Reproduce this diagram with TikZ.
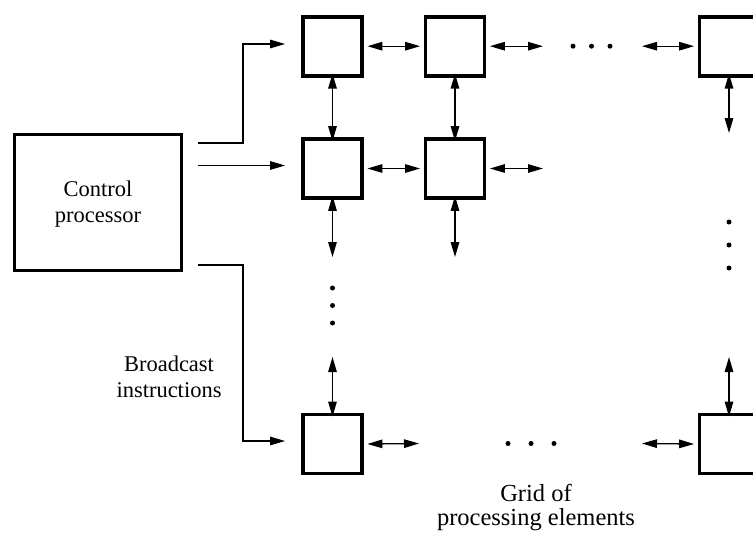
\documentclass[tikz,border=0pt]{standalone}
\usepackage{fontspec}
\setmainfont{Liberation Serif}
\usetikzlibrary{arrows.meta}
\begin{document}
\begin{tikzpicture}[x=1pt,y=-1pt,
  pe/.style={draw,line width=3.8pt,minimum size=59pt,inner sep=0pt},
  ctrl/.style={draw,line width=3.6pt,minimum width=167pt,minimum height=136pt,inner sep=0pt},
  tip/.tip={Triangle[length=15pt,width=8.5pt]},
  link/.style={line width=1.2pt,-tip},
  dbl/.style={line width=1.3pt,tip-tip},
  dot/.style={circle,fill,inner sep=0pt,minimum size=5pt},
  lbl/.style={align=center,font=\fontsize{22.5}{25.5}\selectfont}]
\useasboundingbox (0,0) rectangle (753,533);

% control processor
\node[ctrl] (cp) at (98,202.5) {};
\node[lbl] (cptext) at (98,204) {Control\\processor};

% processing elements
\node[pe] (p11) at (332.5,46.2) {};
\node[pe] (p12) at (455,46.2) {};
\node[pe] (p1n) at (729,46.2) {};
\node[pe] (p21) at (332.5,168.5) {};
\node[pe] (p22) at (455,168.5) {};
\node[pe] (pm1) at (332.5,444) {};
\node[pe] (pmn) at (729,444) {};

% broadcast lines
\coordinate (s1) at (198,143);
\coordinate (j1) at (243,143);
\coordinate (k1) at (243,44);
\coordinate (s2) at (198,165.5);
\coordinate (s3) at (198,265);
\coordinate (j3) at (243,265);
\coordinate (k3) at (243,441);
\draw[link,shorten >=16pt] (s1) -- (j1) -- (k1) -- (k1 -| p11.west);
\draw[link,shorten >=16pt] (s2) -- (s2 -| p21.west);
\draw[link,shorten >=16pt] (s3) -- (j3) -- (k3) -- (k3 -| pm1.west);

% horizontal links
\draw[dbl] ([xshift=3.5pt]p11.east) -- ([xshift=-3.5pt]p12.west);
\coordinate (r1e) at (543,46.2);
\draw[dbl] ([xshift=3.5pt]p12.east) -- (r1e);
\coordinate (r1w) at (642,46.2);
\draw[dbl] (r1w) -- ([xshift=-3.5pt]p1n.west);
\draw[dbl] ([xshift=3.5pt]p21.east) -- ([xshift=-3.5pt]p22.west);
\coordinate (r2e) at (543,168.5);
\draw[dbl] ([xshift=3.5pt]p22.east) -- (r2e);
\coordinate (rme) at (419,443.5);
\draw[dbl] ([xshift=3.5pt]pm1.east) -- (rme);
\coordinate (rmw) at (642,443.5);
\draw[dbl] (rmw) -- ([xshift=-3.5pt]pmn.west);

% vertical links
\draw[dbl] ([yshift=4pt]p11.south) -- ([yshift=-4pt]p21.north);
\draw[dbl] ([yshift=4pt]p12.south) -- ([yshift=-4pt]p22.north);
\coordinate (c1s) at (332.5,257);
\draw[dbl] ([yshift=4pt]p21.south) -- (c1s);
\coordinate (c2s) at (455,257);
\draw[dbl] ([yshift=4pt]p22.south) -- (c2s);
\coordinate (cns) at (729,133);
\draw[dbl] ([yshift=4pt]p1n.south) -- (cns);
\coordinate (c1m) at (332.5,357);
\draw[dbl] (c1m) -- ([yshift=-4pt]pm1.north);
\coordinate (cnm) at (729,357);
\draw[dbl] (cnm) -- ([yshift=-4pt]pmn.north);

% ellipses
\foreach \x/\n in {573/a,591.5/b,610/c} \node[dot] (dr1\n) at (\x,46.2) {};
\foreach \x/\n in {508/a,531/b,554/c} \node[dot] (drm\n) at (\x,443.5) {};
\foreach \y/\n in {288/a,305.5/b,323/c} \node[dot] (dc1\n) at (332.5,\y) {};
\foreach \y/\n in {222/a,245/b,268/c} \node[dot] (dcn\n) at (729,\y) {};

% labels
\node[lbl] (bcast) at (169,377) {Broadcast\\instructions};
\node[lbl,font=\fontsize{24.5}{24}\selectfont] (grid) at (536,508) {Grid of\\processing elements};
\end{tikzpicture}
\end{document}
